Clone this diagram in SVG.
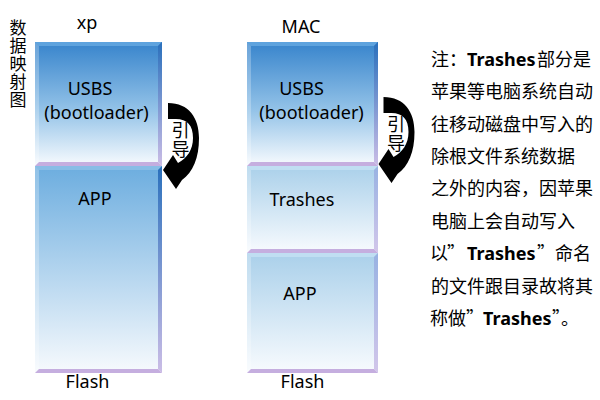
<svg xmlns="http://www.w3.org/2000/svg" width="600" height="400" viewBox="0 0 600 400">
<defs>
<style>
.lbl{font-family:"Noto Sans","Liberation Sans",sans-serif;font-size:18px;fill:#000;text-anchor:middle}
.cjk{font-family:"Noto Sans CJK SC","Noto Sans",sans-serif;font-size:18px;fill:#000}
.lat{font-family:"Noto Sans","Liberation Sans",sans-serif;font-weight:700}
.bot{fill:#c5aedf}
.lite{fill:#ffffff;fill-opacity:0.25}
</style>
<linearGradient id="gDeep" x1="0" y1="0" x2="0" y2="1">
<stop offset="0" stop-color="#3784cc"/><stop offset="0.55" stop-color="#94c3e8"/><stop offset="1" stop-color="#f8fbfe"/>
</linearGradient>
<linearGradient id="gMid" x1="0" y1="0" x2="0" y2="1">
<stop offset="0" stop-color="#6caddf"/><stop offset="1" stop-color="#f7fafd"/>
</linearGradient>
<linearGradient id="gLight" x1="0" y1="0" x2="0" y2="1">
<stop offset="0" stop-color="#aad0ea"/><stop offset="1" stop-color="#f8fbfe"/>
</linearGradient>
<linearGradient id="rDeep" x1="0" y1="0" x2="0" y2="1">
<stop offset="0" stop-color="#2a70bc"/><stop offset="1" stop-color="#cbbde6"/>
</linearGradient>
<linearGradient id="rLight" x1="0" y1="0" x2="0" y2="1">
<stop offset="0" stop-color="#98b2e2"/><stop offset="1" stop-color="#d2c6ea"/>
</linearGradient>
<path id="guide" d="M168,103 C189,103 199,118 199,138 C199,158 193,172 182,180 L176,189 L163,170 L173,155 L178,163 C187,158 193,150 193,138 C193,125 187,119 176,119 L168,119 Z" fill="#000"/>
</defs>
<rect width="600" height="400" fill="#fff"/>

<g id="title-vertical">
<text class="cjk" x="18" y="19.5" writing-mode="vertical-rl" style="font-size:17px;letter-spacing:1px">数据映射图</text>
</g>

<g id="xp-column">
<text class="lbl" x="87" y="29">xp</text>
<g id="xp-usbs">
<rect x="35" y="42" width="127" height="124" fill="url(#gDeep)"/>
<polygon points="35,42 162,42 158,46 39,46" fill="#5ea3de"/>
<polygon points="35,42 39,46 39,162 35,166" class="lite"/>
<polygon points="162,42 162,166 158,162 158,46" fill="url(#rDeep)"/>
<polygon points="35,166 162,166 158,162 39,162" class="bot"/>
<text class="lbl" x="90" y="95">USBS</text>
<text class="lbl" x="96.5" y="119">(bootloader)</text>
</g>
<g id="xp-app">
<rect x="35" y="166" width="127" height="207" fill="url(#gMid)"/>
<polygon points="35,166 162,166 158,170 39,170" fill="#88bde6"/>
<polygon points="35,166 39,170 39,369 35,373" class="lite"/>
<polygon points="162,166 162,373 158,369 158,170" fill="url(#rDeep)"/>
<polygon points="35,373 162,373 158,369 39,369" class="bot"/>
<text class="lbl" x="95" y="205">APP</text>
</g>
<text class="lbl" x="87.5" y="388">Flash</text>
</g>

<g id="mac-column">
<text class="lbl" x="301" y="33">MAC</text>
<g id="mac-usbs">
<rect x="247" y="42" width="131" height="124" fill="url(#gDeep)"/>
<polygon points="247,42 378,42 374,46 251,46" fill="#5ea3de"/>
<polygon points="247,42 251,46 251,162 247,166" class="lite"/>
<polygon points="378,42 378,166 374,162 374,46" fill="url(#rDeep)"/>
<polygon points="247,166 378,166 374,162 251,162" class="bot"/>
<text class="lbl" x="301.5" y="95">USBS</text>
<text class="lbl" x="311.5" y="119">(bootloader)</text>
</g>
<g id="mac-trashes">
<rect x="247" y="166" width="131" height="87" fill="url(#gLight)"/>
<polygon points="247,166 378,166 374,170 251,170" fill="#c0def2"/>
<polygon points="247,166 251,170 251,249 247,253" class="lite"/>
<polygon points="378,166 378,253 374,249 374,170" fill="url(#rLight)"/>
<polygon points="247,253 378,253 374,249 251,249" class="bot"/>
<text class="lbl" x="302" y="206">Trashes</text>
</g>
<g id="mac-app">
<rect x="247" y="253" width="131" height="120" fill="url(#gLight)"/>
<polygon points="247,253 378,253 374,257 251,257" fill="#c0def2"/>
<polygon points="247,253 251,257 251,369 247,373" class="lite"/>
<polygon points="378,253 378,373 374,369 374,257" fill="url(#rLight)"/>
<polygon points="247,373 378,373 374,369 251,369" class="bot"/>
<text class="lbl" x="300" y="300">APP</text>
</g>
<text class="lbl" x="302.5" y="388">Flash</text>
</g>

<g id="connectors">
<g id="guide-xp">
<use href="#guide"/>
<text class="cjk" x="180.5" y="121" writing-mode="vertical-rl" style="letter-spacing:1px">引导</text>
</g>
<g id="guide-mac" transform="translate(215.5,-6)">
<use href="#guide"/>
<text class="cjk" x="180.5" y="121" writing-mode="vertical-rl" style="letter-spacing:1px">引导</text>
</g>
</g>

<g id="note">
<text class="cjk" y="65.5"><tspan x="431">注</tspan><tspan x="449">：</tspan><tspan x="467" class="lat">Trashes</tspan><tspan x="537">部分是</tspan></text>
<text class="cjk" x="431" y="98">苹果等电脑系统自动</text>
<text class="cjk" x="431" y="130.5">往移动磁盘中写入的</text>
<text class="cjk" x="431" y="163">除根文件系统数据</text>
<text class="cjk" x="431" y="195">之外的内容，因苹果</text>
<text class="cjk" x="431" y="227.5">电脑上会自动写入</text>
<text class="cjk" y="260"><tspan x="430">以</tspan><tspan x="447">”</tspan><tspan x="467" class="lat">Trashes</tspan><tspan x="537">”命名</tspan></text>
<text class="cjk" x="431" y="292.5">的文件跟目录故将其</text>
<text class="cjk" y="324.5"><tspan x="430">称做</tspan><tspan x="466">”</tspan><tspan x="483" class="lat">Trashes</tspan><tspan x="552">”。</tspan></text>
</g>
</svg>
